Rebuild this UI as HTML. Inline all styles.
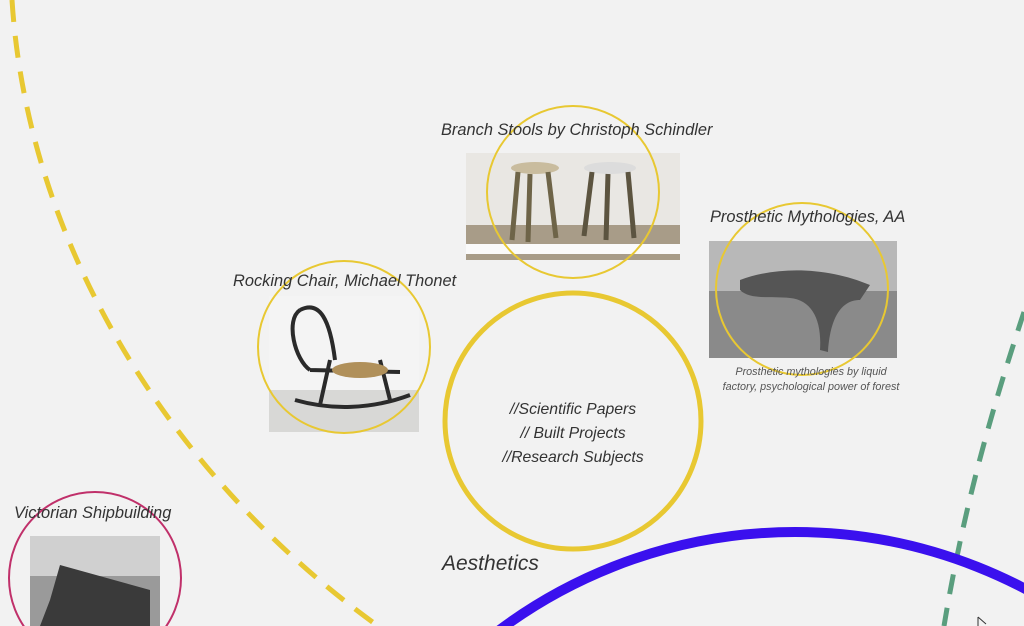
<!DOCTYPE html>
<html><head><meta charset="utf-8"><style>
html,body{margin:0;padding:0;width:1024px;height:626px;overflow:hidden;background:#f2f2f2}
.t{position:absolute;font-family:"Liberation Sans",sans-serif;font-style:italic;color:#333;white-space:nowrap}
</style></head><body>
<svg width="1024" height="626" style="position:absolute;left:0;top:0">
<path d="M12,0 C28,250 175,480 378,626" fill="none" stroke="#e8c832" stroke-width="5" stroke-dasharray="22 14"/>
<path d="M1024,312 C995,400 965,500 944,626" fill="none" stroke="#5a9e7e" stroke-width="5" stroke-dasharray="20 14"/>
<circle cx="795" cy="1026" r="494" fill="none" stroke="#3a10ee" stroke-width="10"/>
<rect x="466" y="153" width="214" height="107" fill="#e9e7e3"/>
<rect x="466" y="225" width="214" height="35" fill="#a89c88"/>
<rect x="466" y="244" width="214" height="10" fill="#fafafa"/>
<ellipse cx="535" cy="168" rx="24" ry="6" fill="#c9bc9e"/>
<path d="M518,172 L512,240 M530,174 L528,242 M548,172 L556,238" stroke="#6e6448" stroke-width="5"/>
<ellipse cx="610" cy="168" rx="26" ry="6" fill="#dcdcdc"/>
<path d="M592,172 L584,236 M608,174 L606,240 M628,172 L634,238" stroke="#5c5440" stroke-width="5"/>
<rect x="709" y="241" width="188" height="117" fill="#8a8a8a"/>
<rect x="709" y="241" width="188" height="50" fill="#b8b8b8"/>
<path d="M740,280 C780,265 830,268 870,285 L860,300 C840,300 830,320 828,352 L820,350 C822,320 812,300 790,298 C770,296 750,300 740,290Z" fill="#555"/>
<rect x="269" y="296" width="150" height="136" fill="#f4f4f4"/>
<rect x="269" y="390" width="150" height="42" fill="#d8d8d6"/>
<path d="M300,310 C285,320 295,360 310,370 M300,310 C320,300 330,320 335,360 M310,370 L400,372 M295,400 C330,410 370,410 410,395 M330,360 L320,405 M380,360 L390,400" stroke="#2a2a2a" stroke-width="4" fill="none"/>
<ellipse cx="360" cy="370" rx="28" ry="8" fill="#b0905a"/>
<rect x="30" y="536" width="130" height="90" fill="#9a9a9a"/>
<rect x="30" y="536" width="130" height="40" fill="#d0d0d0"/>
<path d="M50,600 L60,565 L150,590 L150,626 L40,626Z" fill="#3a3a3a"/>
<circle cx="573" cy="192" r="86" fill="none" stroke="#e8c832" stroke-width="2"/>
<circle cx="802" cy="289" r="86" fill="none" stroke="#e8c832" stroke-width="2"/>
<circle cx="344" cy="347" r="86" fill="none" stroke="#e8c832" stroke-width="2"/>
<circle cx="95" cy="578" r="86" fill="none" stroke="#c0306a" stroke-width="2"/>
<circle cx="573" cy="421" r="128" fill="none" stroke="#e8c832" stroke-width="5"/>
<path d="M978,617 L978,626 M978,617 L986,624" stroke="#333" stroke-width="1"/>
</svg>
<div class="t" style="left:441px;top:121px;font-size:16.4px">Branch Stools by Christoph Schindler</div>
<div class="t" style="left:710px;top:208px;font-size:16.4px">Prosthetic Mythologies, AA</div>
<div class="t" style="left:233px;top:272px;font-size:16.4px">Rocking Chair, Michael Thonet</div>
<div class="t" style="left:14px;top:504px;font-size:16.4px">Victorian Shipbuilding</div>
<div class="t" style="left:711px;top:365px;width:200px;font-size:10.8px;text-align:center;line-height:15px;color:#555">Prosthetic mythologies by liquid<br>factory, psychological power of forest</div>
<div class="t" style="left:473px;top:398px;width:200px;text-align:center;font-size:15.8px;line-height:24px">//Scientific Papers<br>// Built Projects<br>//Research Subjects</div>
<div class="t" style="left:442px;top:552px;font-size:21px">Aesthetics</div>
</body></html>
